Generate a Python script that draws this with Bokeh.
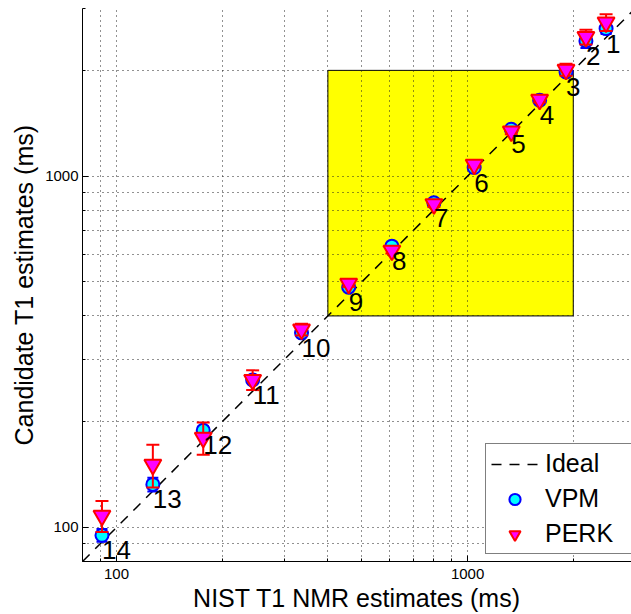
from bokeh.plotting import figure
from bokeh.models import Range1d, FixedTicker, ColumnDataSource
from bokeh.core.properties import value
from bokeh.embed import file_html
from bokeh.resources import INLINE

# ---- data ----
sphere = ["1", "2", "3", "4", "5", "6", "7", "8", "9", "10", "11", "12", "13", "14"]
nist = [2480, 2173, 1907, 1604, 1332, 1044, 801.7, 608.6, 458.4, 336.5, 244.2, 176.6, 126.9, 90.9]
vpm = [2630, 2425, 1980, 1645, 1360, 1058, 840, 632, 483, 358, 263, 189, 132.6, 95]
vpm_err = [90, 110, 30, 25, 25, 15, 12, 10, 8, 6, 5, 5, 6, 4]
perk = [2740, 2490, 2010, 1650, 1340, 1078, 832, 614, 494, 366, 263, 180, 151, 108]
perk_err = [150, 120, 80, 30, 25, 20, 15, 12, 10, 14, 17, 19, 21, 11]
ideal = [80, 3000]
box_lo = [400]
box_hi = [2000]
major_ticks = [100, 1000]
minor_ticks = [80, 90, 200, 300, 400, 500, 600, 700, 800, 900, 2000, 3000]
tick_labels = ["100", "1000"]

FONT = "Liberation Sans"

src = ColumnDataSource(dict(
    sphere=sphere, nist=nist, vpm=vpm, perk=perk,
    vpm_lo=[v - e for v, e in zip(vpm, vpm_err)],
    vpm_hi=[v + e for v, e in zip(vpm, vpm_err)],
    perk_lo=[v - e for v, e in zip(perk, perk_err)],
    perk_hi=[v + e for v, e in zip(perk, perk_err)],
))

p = figure(width=631, height=614, x_axis_type="log", y_axis_type="log",
           x_range=Range1d(80, 2930), y_range=Range1d(80, 3000),
           output_backend="svg", toolbar_location=None,
           min_border_left=82, min_border_right=0, min_border_top=8, min_border_bottom=53)
p.outline_line_color = None
p.background_fill_color = "white"

# yellow region
p.quad(left=box_lo, right=box_hi, bottom=box_lo, top=box_hi,
       fill_color="#FFFF00", line_color="black", line_width=1, level="image")

# ideal line
p.line(ideal, ideal, line_color="black", line_width=1.5, line_dash="10 8", legend_label="Ideal")

# VPM error bars + markers
p.segment(x0="nist", y0="vpm_lo", x1="nist", y1="vpm_hi", source=src, line_color="#0000FF", line_width=2)
p.scatter(x="nist", y="vpm_lo", source=src, marker="dash", size=11, line_color="#0000FF", line_width=2)
p.scatter(x="nist", y="vpm_hi", source=src, marker="dash", size=11, line_color="#0000FF", line_width=2)
p.scatter(x="nist", y="vpm", source=src, marker="circle", size=13, fill_color="#00FFFF",
          line_color="#0000FF", line_width=2, legend_label="VPM")

# PERK error bars + markers
p.segment(x0="nist", y0="perk_lo", x1="nist", y1="perk_hi", source=src, line_color="#FF0000", line_width=2)
p.scatter(x="nist", y="perk_lo", source=src, marker="dash", size=13, line_color="#FF0000", line_width=2)
p.scatter(x="nist", y="perk_hi", source=src, marker="dash", size=13, line_color="#FF0000", line_width=2)
p.scatter(x="nist", y="perk", source=src, marker="inverted_triangle", size=17, fill_color="#FF00FF",
          line_color="#FF0000", line_width=2, legend_label="PERK")

# sphere labels
p.text(x="nist", y="vpm", text="sphere", source=src, text_font=value(FONT), text_font_size="26px",
       text_align="left", text_baseline="middle", y_offset=15, text_color="black")

# axes
for ax in (p.xaxis[0], p.yaxis[0]):
    ax.ticker = FixedTicker(ticks=major_ticks, minor_ticks=minor_ticks)
    ax.major_label_overrides = dict(zip(major_ticks, tick_labels))
    ax.major_label_text_font = FONT
    ax.major_label_text_font_size = "15px"
    ax.major_label_text_color = "black"
    ax.axis_label_text_font = FONT
    ax.axis_label_text_font_size = "25px"
    ax.axis_label_text_font_style = "normal"
    ax.axis_label_text_color = "black"
    ax.axis_line_color = "black"
    ax.major_tick_line_color = "black"
    ax.minor_tick_line_color = "black"
    ax.major_tick_in = 6
    ax.major_tick_out = 0
    ax.minor_tick_in = 3
    ax.minor_tick_out = 0

p.xaxis.axis_label = "NIST T1 NMR estimates (ms)"
p.yaxis.axis_label = "Candidate T1 estimates (ms)"
p.xaxis.major_label_standoff = 7
p.yaxis.major_label_standoff = 4
p.xaxis.axis_label_standoff = 2
p.yaxis.axis_label_standoff = 4

for g in (p.xgrid[0], p.ygrid[0]):
    g.grid_line_color = "#222222"
    g.grid_line_dash = "1 4"
    g.grid_line_width = 1
    g.minor_grid_line_color = "#222222"
    g.minor_grid_line_dash = "1 4"
    g.minor_grid_line_width = 1

lg = p.legend[0]
lg.location = (403, 7)
lg.label_text_font = FONT
lg.label_text_font_size = "25px"
lg.label_text_color = "black"
lg.border_line_color = "black"
lg.border_line_width = 1
lg.background_fill_alpha = 1
lg.padding = 5
lg.spacing = 6
lg.margin = 0
lg.glyph_width = 47
lg.glyph_height = 28
lg.label_height = 28
lg.label_width = 86
lg.label_standoff = 7

open("out.html", "w").write(file_html(p, INLINE))
